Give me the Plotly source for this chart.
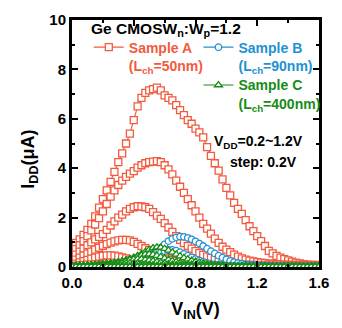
import plotly.graph_objects as go

# Input sweep (V), 25 mV steps from 0 to 1.6 V
VIN = [round(i * 0.025, 3) for i in range(65)]
VDD_STEPS = ["1.2", "1.0", "0.8", "0.6", "0.4", "0.2"]

# Sample A (Lch = 50 nm), I_DD in uA for VDD = 1.2 ... 0.2 V
A_12 = [0.88, 0.98, 1.12, 1.30, 1.50, 1.75, 2.05, 2.40, 2.75, 3.10, 3.45, 3.85, 4.25, 4.60, 5.00, 5.40,
        5.95, 6.50, 6.85, 7.05, 7.15, 7.20, 7.26, 7.15, 6.95, 6.85, 6.75, 6.55, 6.35, 6.15, 5.95, 5.80,
        5.60, 5.45, 5.25, 4.85, 4.50, 4.20, 3.90, 3.55, 3.20, 2.90, 2.60, 2.35, 2.15, 1.90, 1.65, 1.45,
        1.25, 1.05, 0.85, 0.65, 0.55, 0.45, 0.38, 0.32, 0.27, 0.22, 0.18, 0.15, 0.12, 0.10, 0.09, 0.08, 0.07]
A_10 = [0.60, 0.72, 0.88, 1.05, 1.25, 1.48, 1.72, 1.98, 2.25, 2.55, 2.85, 3.10, 3.32, 3.50, 3.65, 3.78,
        3.88, 4.02, 4.12, 4.20, 4.25, 4.27, 4.29, 4.25, 4.12, 3.95, 3.75, 3.50, 3.25, 3.00, 2.75, 2.50,
        2.25, 2.00, 1.75, 1.55, 1.35, 1.15, 0.98, 0.82, 0.70, 0.60, 0.50, 0.42, 0.35, 0.30, 0.26, 0.23,
        0.20, 0.18, 0.16, 0.14, 0.13, 0.12, 0.11, 0.10, 0.09, 0.08, 0.08, 0.07, 0.07, 0.06, 0.06, 0.05, 0.05]
A_08 = [0.40, 0.50, 0.62, 0.75, 0.88, 1.00, 1.12, 1.22, 1.33, 1.50, 1.68, 1.85, 2.00, 2.12, 2.25, 2.35,
        2.42, 2.46, 2.45, 2.42, 2.35, 2.22, 2.08, 1.95, 1.78, 1.60, 1.42, 1.25, 1.10, 0.97, 0.85, 0.74,
        0.64, 0.56, 0.49, 0.42, 0.37, 0.32, 0.28, 0.24, 0.21, 0.18, 0.15, 0.13, 0.11, 0.10, 0.09, 0.08,
        0.07, 0.06, 0.06, 0.05, 0.05, 0.05, 0.04, 0.04, 0.04, 0.03, 0.03, 0.03, 0.03, 0.03, 0.02, 0.02, 0.02]
A_06 = [0.22, 0.30, 0.38, 0.46, 0.54, 0.62, 0.70, 0.78, 0.86, 0.93, 0.99, 1.04, 1.08, 1.10, 1.10, 1.08,
        1.02, 0.94, 0.85, 0.76, 0.68, 0.60, 0.52, 0.45, 0.39, 0.34, 0.29, 0.25, 0.22, 0.19, 0.16, 0.14,
        0.12, 0.11, 0.09, 0.08, 0.07, 0.07, 0.06, 0.05, 0.05, 0.04, 0.04, 0.04, 0.04, 0.03, 0.03, 0.03,
        0.03, 0.03, 0.03, 0.02, 0.02, 0.02, 0.02, 0.02, 0.02, 0.02, 0.02, 0.02, 0.02, 0.02, 0.02, 0.02, 0.02]
A_04 = [0.10, 0.14, 0.19, 0.24, 0.29, 0.34, 0.38, 0.42, 0.45, 0.47, 0.47, 0.46, 0.43, 0.39, 0.35, 0.30,
        0.26, 0.22, 0.19, 0.16, 0.14, 0.12, 0.10, 0.09, 0.08, 0.07, 0.06, 0.05, 0.05, 0.04, 0.04, 0.04,
        0.03, 0.03, 0.03, 0.03, 0.03, 0.02, 0.02, 0.02, 0.02, 0.02, 0.02, 0.02, 0.02, 0.02, 0.02, 0.02,
        0.02, 0.01, 0.01, 0.01, 0.01, 0.01, 0.01, 0.01, 0.01, 0.01, 0.01, 0.01, 0.01, 0.01, 0.01, 0.01, 0.01]
A_02 = [0.03, 0.05, 0.07, 0.09, 0.10, 0.11, 0.11, 0.10, 0.09, 0.08, 0.07, 0.06, 0.05, 0.04, 0.04, 0.03,
        0.03, 0.03, 0.02, 0.02, 0.02, 0.02, 0.02, 0.02, 0.02, 0.01, 0.01, 0.01, 0.01, 0.01, 0.01, 0.01,
        0.01, 0.01, 0.01, 0.01, 0.01, 0.01, 0.01, 0.01, 0.01, 0.01, 0.01, 0.01, 0.01, 0.01, 0.01, 0.01,
        0.01, 0.01, 0.01, 0.01, 0.01, 0.01, 0.01, 0.01, 0.01, 0.01, 0.01, 0.01, 0.01, 0.01, 0.01, 0.01, 0.01]

# Sample B (Lch = 90 nm)
B_12 = [0.01, 0.01, 0.01, 0.01, 0.01, 0.01, 0.01, 0.01, 0.02, 0.02, 0.02, 0.02, 0.03, 0.04, 0.06, 0.09,
        0.13, 0.18, 0.25, 0.33, 0.42, 0.52, 0.64, 0.78, 0.92, 1.05, 1.14, 1.20, 1.23, 1.22, 1.18, 1.12,
        1.04, 0.95, 0.85, 0.74, 0.64, 0.55, 0.46, 0.38, 0.31, 0.25, 0.20, 0.16, 0.13, 0.10, 0.08, 0.07,
        0.06, 0.05, 0.04, 0.04, 0.03, 0.03, 0.03, 0.02, 0.02, 0.02, 0.02, 0.02, 0.02, 0.02, 0.02, 0.02, 0.02]
B_10 = [0.01, 0.01, 0.01, 0.01, 0.01, 0.01, 0.01, 0.01, 0.01, 0.01, 0.01, 0.02, 0.02, 0.03, 0.04, 0.06,
        0.08, 0.11, 0.16, 0.22, 0.30, 0.39, 0.49, 0.58, 0.65, 0.69, 0.69, 0.66, 0.60, 0.53, 0.46, 0.39,
        0.32, 0.26, 0.21, 0.17, 0.13, 0.10, 0.08, 0.06, 0.05, 0.04, 0.04, 0.03, 0.03, 0.03, 0.02, 0.02,
        0.02, 0.02, 0.02, 0.02, 0.01, 0.01, 0.01, 0.01, 0.01, 0.01, 0.01, 0.01, 0.01, 0.01, 0.01, 0.01, 0.01]
B_08 = [0.01, 0.01, 0.01, 0.01, 0.01, 0.01, 0.01, 0.01, 0.01, 0.01, 0.01, 0.01, 0.01, 0.01, 0.02, 0.03,
        0.05, 0.08, 0.12, 0.17, 0.22, 0.27, 0.30, 0.30, 0.28, 0.24, 0.20, 0.16, 0.13, 0.10, 0.08, 0.06,
        0.05, 0.04, 0.03, 0.03, 0.02, 0.02, 0.02, 0.02, 0.01, 0.01, 0.01, 0.01, 0.01, 0.01, 0.01, 0.01,
        0.01, 0.01, 0.01, 0.01, 0.01, 0.01, 0.01, 0.01, 0.01, 0.01, 0.01, 0.01, 0.01, 0.01, 0.01, 0.01, 0.01]
B_06 = [0.01, 0.01, 0.01, 0.01, 0.01, 0.01, 0.01, 0.01, 0.01, 0.01, 0.01, 0.01, 0.02, 0.03, 0.04, 0.06,
        0.08, 0.10, 0.12, 0.12, 0.11, 0.09, 0.07, 0.06, 0.04, 0.03, 0.03, 0.02, 0.02, 0.02, 0.01, 0.01,
        0.01, 0.01, 0.01, 0.01, 0.01, 0.01, 0.01, 0.01, 0.01, 0.01, 0.01, 0.01, 0.01, 0.01, 0.01, 0.01,
        0.01, 0.01, 0.01, 0.01, 0.01, 0.01, 0.01, 0.01, 0.01, 0.01, 0.01, 0.01, 0.01, 0.01, 0.01, 0.01, 0.01]
B_04 = [0.00, 0.00, 0.01, 0.01, 0.01, 0.01, 0.01, 0.01, 0.01, 0.02, 0.02, 0.03, 0.03, 0.04, 0.04, 0.04,
        0.04, 0.03, 0.03, 0.02, 0.02, 0.02, 0.01, 0.01, 0.01, 0.01, 0.01, 0.01, 0.01, 0.01, 0.01, 0.01,
        0.01, 0.01, 0.01, 0.01, 0.01, 0.01, 0.01, 0.01, 0.01, 0.01, 0.01, 0.01, 0.01, 0.01, 0.01, 0.01,
        0.01, 0.01, 0.01, 0.01, 0.01, 0.01, 0.01, 0.01, 0.01, 0.01, 0.01, 0.01, 0.01, 0.01, 0.01, 0.01, 0.01]
B_02 = [0.00, 0.00, 0.00, 0.00, 0.00, 0.01, 0.01, 0.01, 0.01, 0.01, 0.01, 0.01, 0.01, 0.01, 0.01, 0.01,
        0.01, 0.01, 0.01, 0.01, 0.01, 0.01, 0.01, 0.01, 0.01, 0.00, 0.00, 0.00, 0.00, 0.00, 0.00, 0.00,
        0.00, 0.00, 0.00, 0.00, 0.00, 0.00, 0.00, 0.00, 0.00, 0.00, 0.00, 0.00, 0.00, 0.00, 0.00, 0.00,
        0.00, 0.00, 0.00, 0.00, 0.00, 0.00, 0.00, 0.00, 0.00, 0.00, 0.00, 0.00, 0.00, 0.00, 0.00, 0.00, 0.00]

# Sample C (Lch = 400 nm)
C_12 = [0.05, 0.05, 0.06, 0.06, 0.07, 0.08, 0.09, 0.10, 0.11, 0.13, 0.15, 0.17, 0.20, 0.23, 0.27, 0.32,
        0.38, 0.45, 0.53, 0.61, 0.70, 0.77, 0.80, 0.79, 0.74, 0.67, 0.59, 0.51, 0.44, 0.37, 0.31, 0.26,
        0.22, 0.18, 0.15, 0.12, 0.10, 0.08, 0.07, 0.06, 0.05, 0.05, 0.04, 0.04, 0.04, 0.04, 0.03, 0.03,
        0.03, 0.03, 0.03, 0.03, 0.03, 0.03, 0.03, 0.03, 0.03, 0.03, 0.03, 0.03, 0.03, 0.03, 0.03, 0.03, 0.03]
C_10 = [0.04, 0.04, 0.05, 0.05, 0.06, 0.07, 0.08, 0.09, 0.10, 0.12, 0.14, 0.16, 0.19, 0.22, 0.26, 0.31,
        0.36, 0.42, 0.47, 0.51, 0.52, 0.50, 0.46, 0.41, 0.35, 0.30, 0.25, 0.21, 0.17, 0.14, 0.12, 0.10,
        0.08, 0.07, 0.06, 0.05, 0.05, 0.04, 0.04, 0.04, 0.03, 0.03, 0.03, 0.03, 0.03, 0.03, 0.03, 0.03,
        0.02, 0.02, 0.02, 0.02, 0.02, 0.02, 0.02, 0.02, 0.02, 0.02, 0.02, 0.02, 0.02, 0.02, 0.02, 0.02, 0.02]
C_08 = [0.03, 0.03, 0.04, 0.04, 0.05, 0.06, 0.07, 0.08, 0.10, 0.12, 0.14, 0.17, 0.20, 0.23, 0.26, 0.29,
        0.31, 0.32, 0.32, 0.30, 0.27, 0.24, 0.21, 0.18, 0.15, 0.12, 0.10, 0.08, 0.07, 0.06, 0.05, 0.04,
        0.04, 0.03, 0.03, 0.03, 0.03, 0.02, 0.02, 0.02, 0.02, 0.02, 0.02, 0.02, 0.02, 0.02, 0.02, 0.02,
        0.02, 0.02, 0.02, 0.02, 0.02, 0.02, 0.02, 0.02, 0.02, 0.02, 0.02, 0.02, 0.02, 0.02, 0.02, 0.02, 0.02]
C_06 = [0.02, 0.02, 0.03, 0.03, 0.04, 0.05, 0.06, 0.07, 0.08, 0.10, 0.11, 0.13, 0.14, 0.15, 0.16, 0.16,
        0.15, 0.14, 0.12, 0.11, 0.09, 0.08, 0.06, 0.05, 0.04, 0.04, 0.03, 0.03, 0.02, 0.02, 0.02, 0.02,
        0.02, 0.02, 0.02, 0.02, 0.02, 0.02, 0.02, 0.01, 0.01, 0.01, 0.01, 0.01, 0.01, 0.01, 0.01, 0.01,
        0.01, 0.01, 0.01, 0.01, 0.01, 0.01, 0.01, 0.01, 0.01, 0.01, 0.01, 0.01, 0.01, 0.01, 0.01, 0.01, 0.01]
C_04 = [0.01, 0.02, 0.02, 0.03, 0.03, 0.04, 0.04, 0.05, 0.05, 0.06, 0.06, 0.06, 0.06, 0.05, 0.05, 0.04,
        0.04, 0.03, 0.03, 0.02, 0.02, 0.02, 0.02, 0.02, 0.01, 0.01, 0.01, 0.01, 0.01, 0.01, 0.01, 0.01,
        0.01, 0.01, 0.01, 0.01, 0.01, 0.01, 0.01, 0.01, 0.01, 0.01, 0.01, 0.01, 0.01, 0.01, 0.01, 0.01,
        0.01, 0.01, 0.01, 0.01, 0.01, 0.01, 0.01, 0.01, 0.01, 0.01, 0.01, 0.01, 0.01, 0.01, 0.01, 0.01, 0.01]
C_02 = [0.01, 0.01, 0.01, 0.02, 0.02, 0.02, 0.02, 0.02, 0.02, 0.02, 0.01, 0.01, 0.01, 0.01, 0.01, 0.01,
        0.01, 0.01, 0.01, 0.01, 0.01, 0.01, 0.01, 0.01, 0.01, 0.01, 0.01, 0.01, 0.01, 0.01, 0.01, 0.01,
        0.01, 0.01, 0.01, 0.01, 0.01, 0.01, 0.01, 0.01, 0.01, 0.01, 0.01, 0.01, 0.01, 0.01, 0.01, 0.01,
        0.01, 0.01, 0.01, 0.01, 0.01, 0.01, 0.01, 0.01, 0.01, 0.01, 0.01, 0.01, 0.01, 0.01, 0.01, 0.01, 0.01]

SAMPLES = [
    dict(name="Sample A<br>(L<sub>ch</sub>=50nm)", color="#F25A3E", symbol="square", size=7,
         curves=[A_12, A_10, A_08, A_06, A_04, A_02], legend="legend"),
    dict(name="Sample B<br>(L<sub>ch</sub>=90nm)", color="#2290D2", symbol="circle", size=6.5,
         curves=[B_12, B_10, B_08, B_06, B_04, B_02], legend="legend2"),
    dict(name="Sample C<br>(L<sub>ch</sub>=400nm)", color="#168C16", symbol="triangle-up", size=7,
         curves=[C_12, C_10, C_08, C_06, C_04, C_02], legend="legend3"),
]

FONT = "Liberation Sans, Arial, sans-serif"

fig = go.Figure()
for s in SAMPLES:
    for k, (vdd, idd) in enumerate(zip(VDD_STEPS, s["curves"])):
        fig.add_trace(go.Scatter(
            x=VIN, y=idd, mode="lines+markers",
            name=s["name"], legend=s["legend"], showlegend=(k == 0),
            line=dict(color=s["color"], width=1.2),
            marker=dict(symbol=s["symbol"], size=s["size"], color="white",
                        line=dict(color=s["color"], width=1.3)),
            hovertemplate="VDD=" + vdd + " V<br>VIN=%{x} V<br>IDD=%{y} uA<extra></extra>",
        ))

def legend_box(x, y, color):
    return dict(x=x, y=y, xanchor="left", yanchor="top", bgcolor="rgba(0,0,0,0)",
                borderwidth=0, valign="top", tracegroupgap=0,
                font=dict(family=FONT, size=14, color=color, weight="bold"))

axis_common = dict(
    showline=True, linewidth=3, linecolor="black", mirror="allticks",
    ticks="inside", ticklen=6, tickwidth=2, tickcolor="black",
    showgrid=False, zeroline=False,
    tickfont=dict(family=FONT, size=15, color="black", weight="bold"),
)

fig.update_layout(
    width=342, height=328,
    margin=dict(l=72, r=23, t=11, b=57),
    paper_bgcolor="white", plot_bgcolor="white",
    font=dict(family=FONT, color="black"),
    xaxis=dict(range=[0, 1.6], tick0=0, dtick=0.4, tickformat=".1f",
               minor=dict(dtick=0.2, ticks="inside", ticklen=3, tickwidth=2, tickcolor="black"),
               title=dict(text="V<sub>IN</sub>(V)", standoff=13,
                          font=dict(family=FONT, size=18, color="black", weight="bold")),
               **axis_common),
    yaxis=dict(range=[0, 10], tick0=0, dtick=2,
               minor=dict(dtick=1, ticks="inside", ticklen=3, tickwidth=2, tickcolor="black"),
               **axis_common),
    legend=legend_box(0.068, 0.953, "#F25A3E"),
    legend2=legend_box(0.512, 0.953, "#2290D2"),
    legend3=legend_box(0.512, 0.800, "#168C16"),
)

text_font = dict(family=FONT, size=14, color="black", weight="bold")
fig.add_annotation(text="Ge CMOSW<sub>n</sub>:W<sub>p</sub>=1.2", xref="paper", yref="paper",
                   x=0.068, y=0.96, xanchor="left", yanchor="middle", showarrow=False,
                   font=dict(family=FONT, size=15.5, color="black", weight="bold"))
fig.add_annotation(text="V<sub>DD</sub>=0.2~1.2V", xref="paper", yref="paper",
                   x=0.945, y=0.508, xanchor="right", yanchor="middle", showarrow=False, font=text_font)
fig.add_annotation(text="step: 0.2V", xref="paper", yref="paper",
                   x=0.92, y=0.427, xanchor="right", yanchor="middle", showarrow=False, font=text_font)
fig.add_annotation(text="I<sub>DD</sub>(μA)", xref="paper", yref="paper",
                   x=(30 - 72) / 247, y=(271 - 158) / 260, xanchor="center", yanchor="middle",
                   textangle=-90, showarrow=False,
                   font=dict(family=FONT, size=18, color="black", weight="bold"))

fig.write_html("out.html")
